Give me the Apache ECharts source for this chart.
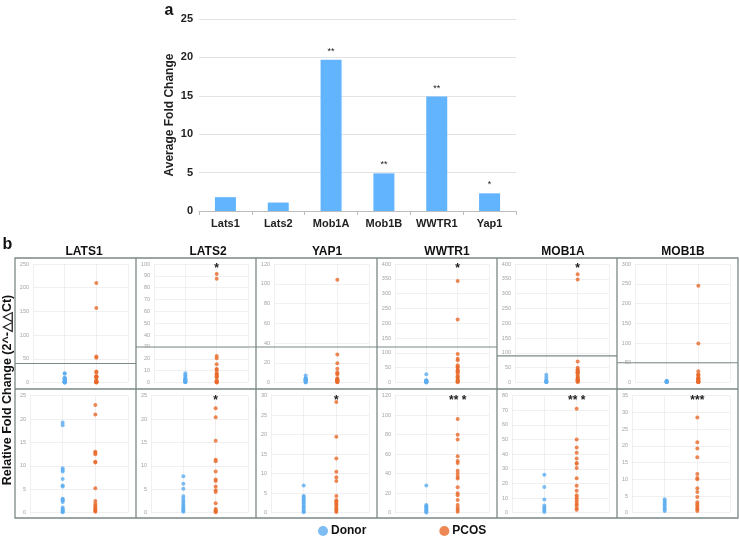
<!DOCTYPE html>
<html>
<head>
<meta charset="utf-8">
<script src="https://cdn.jsdelivr.net/npm/echarts@6/dist/echarts.min.js"></script>
<style>
  html, body { margin: 0; padding: 0; background: #fff; }
  #main { width: 739px; height: 537px; }
</style>
</head>
<body>
<div id="main"></div>
<script>
// panel a: average fold change
const barGenes = ['Lats1', 'Lats2', 'Mob1A', 'Mob1B', 'WWTR1', 'Yap1'];
const barValues = [1.8, 1.1, 19.7, 4.9, 14.9, 2.3];
const barStars = ['', '', '**', '**', '**', '*'];

// panel b: relative fold change per sample
const genes = ['LATS1', 'LATS2', 'YAP1', 'WWTR1', 'MOB1A', 'MOB1B'];
const lats1Donor = [19.3, 18.7, 9.5, 9.1, 8.8, 7.2, 5.8, 5.6, 3.0, 2.8, 2.6, 2.3, 1.1, 0.8, 0.6, 0.4, 0.2, 0.1];
const lats1Pcos = [210, 157, 55, 52, 23.0, 21.0, 13.0, 12.8, 12.5, 10.9, 10.7, 5.2, 2.5, 1.9, 1.5, 1.2, 0.9, 0.6, 0.4, 0.2];
const lats2Donor = [7.8, 6.2, 5.1, 3.5, 3.0, 2.5, 2.1, 1.7, 1.3, 1.0, 0.7, 0.4, 0.2];
const lats2Pcos = [91.5, 87.5, 22.3, 20.4, 15.4, 11.3, 11.0, 8.8, 7.1, 6.8, 5.6, 4.8, 4.4, 2.0, 0.8, 0.5, 0.3, 0.1];
const yap1Donor = [7.0, 4.3, 4.0, 3.6, 3.2, 2.8, 2.4, 2.0, 1.6, 1.2, 0.8, 0.4, 0.1];
const yap1Pcos = [104, 28.4, 19.5, 13.9, 10.5, 9.1, 8.1, 4.3, 3.2, 2.9, 2.5, 2.1, 1.7, 1.3, 0.9, 0.5, 0.2];
const wwtr1Donor = [28, 8.0, 7.0, 6.0, 5.0, 4.0, 3.0, 2.0, 1.0, 0.3];
const wwtr1Pcos = [343, 213, 96, 80, 75, 58, 53, 51, 43, 40, 37, 35, 26, 20, 18, 13, 8, 5, 3, 1];
const mob1aDonor = [26, 17.5, 9, 5, 3.5, 2.5, 1.5, 0.5];
const mob1aPcos = [365, 348, 71, 50, 44.5, 41, 37, 34, 33.5, 30.5, 23.5, 18.5, 15, 12, 10.5, 9, 7.5, 6, 5, 3, 2];
const mob1bDonor = [4.0, 3.5, 3.0, 2.5, 2.0, 1.5, 1.0, 0.5];
const mob1bPcos = [245, 99, 28.5, 21.1, 19.2, 16.6, 11.6, 10.4, 10.0, 7.3, 6.2, 4.7, 3.1, 2.5, 2.0, 1.5, 1.0, 0.5];

const donorSets = [lats1Donor, lats2Donor, yap1Donor, wwtr1Donor, mob1aDonor, mob1bDonor];
const pcosSets = [lats1Pcos, lats2Pcos, yap1Pcos, wwtr1Pcos, mob1aPcos, mob1bPcos];

// y axes: full range (top row) and zoomed range (bottom row)
const upperMax = [250, 100, 120, 400, 400, 300];
const upperStep = [50, 10, 20, 50, 50, 50];
const breakAt = [40, 30, 36, 120, 90, 50];
const lowerMax = [25, 25, 30, 120, 80, 35];
const lowerStep = [5, 5, 5, 20, 10, 5];
const upperStars = ['', '*', '', '*', '*', ''];
const lowerStars = ['', '*', '*', '** *', '** *', '***'];

const colX = [15, 136, 256, 377, 497, 617, 738];
const headerX = [84, 208, 327, 447, 563, 683];
const W = 739, H = 537;
const FONT = 'Liberation Sans, Arial, sans-serif';
const DONOR = '#5cadf0';
const PCOS = '#e86a2b';
const FRAME = '#7b8887';

const chart = echarts.init(document.getElementById('main'), null, { renderer: 'canvas' });

const grids = [{ left: 199, right: W - 516, top: 19, bottom: H - 211 }];
const xAxes = [{
  type: 'category', gridIndex: 0, data: barGenes,
  axisLine: { lineStyle: { color: '#bdbdbd' } },
  axisTick: { show: true, length: 4, lineStyle: { color: '#bdbdbd' } },
  axisLabel: { interval: 0, color: '#222', fontSize: 11, fontWeight: 'bold', fontFamily: FONT, margin: 7 }
}];
const yAxes = [{
  type: 'value', gridIndex: 0, min: 0, max: 25, interval: 5,
  name: 'Average Fold Change', nameLocation: 'middle', nameGap: 23,
  nameTextStyle: { color: '#222', fontSize: 12, fontWeight: 'bold', fontFamily: FONT },
  axisLine: { show: false }, axisTick: { show: false },
  axisLabel: { color: '#222', fontSize: 11, fontWeight: 'bold', fontFamily: FONT, margin: 6 },
  splitLine: { lineStyle: { color: '#e3e3e3' } }
}];
const series = [{
  type: 'bar', xAxisIndex: 0, yAxisIndex: 0, data: barValues, barWidth: 21,
  itemStyle: { color: '#62b4ff' },
  label: {
    show: true, position: 'top', distance: 4, color: '#222', fontSize: 9, fontFamily: FONT,
    formatter: p => barStars[p.dataIndex]
  }
}];

function addPanel(i, row) {
  const max = row === 0 ? upperMax[i] : lowerMax[i];
  const step = row === 0 ? upperStep[i] : lowerStep[i];
  const stars = row === 0 ? upperStars[i] : lowerStars[i];
  const labelLen = String(max).length;
  const g = grids.length;
  grids.push(row === 0
    ? { left: colX[i] + 9 + 3 * labelLen, right: W - colX[i + 1] + 8, top: 264, bottom: H - 382.5 }
    : { left: colX[i] + 9 + 3 * labelLen, right: W - colX[i + 1] + 8, top: 395.7, bottom: H - 512.7 });
  xAxes.push({
    type: 'value', gridIndex: g, min: 0, max: 3, interval: 1,
    axisLine: { show: false }, axisTick: { show: false }, axisLabel: { show: false },
    splitLine: { lineStyle: { color: '#ececec', width: 0.8 } }
  });
  yAxes.push({
    type: 'value', gridIndex: g, min: 0, max: max, interval: step,
    axisLine: { show: false }, axisTick: { show: false },
    axisLabel: { color: '#a3a3a3', fontSize: 5.5, fontFamily: FONT, margin: 4 },
    splitLine: { lineStyle: { color: '#ececec', width: 0.8 } }
  });
  series.push({
    name: 'Donor', type: 'scatter', xAxisIndex: g, yAxisIndex: g, symbolSize: 4,
    itemStyle: { color: DONOR }, clip: true,
    data: donorSets[i].map(v => [1, v])
  });
  const pcos = {
    name: 'PCOS', type: 'scatter', xAxisIndex: g, yAxisIndex: g, symbolSize: 4,
    itemStyle: { color: PCOS }, clip: true,
    data: pcosSets[i].map(v => [2, v])
  };
  if (stars) {
    pcos.markPoint = {
      symbol: 'circle', symbolSize: 1, itemStyle: { color: 'rgba(0,0,0,0)' },
      label: {
        show: true, position: 'inside', offset: [0, 5], color: '#222',
        fontSize: 12, fontWeight: 'bold', fontFamily: FONT, formatter: stars
      },
      data: [{ coord: [2, max] }]
    };
  }
  series.push(pcos);
}
for (let i = 0; i < genes.length; i++) {
  addPanel(i, 0);
  addPanel(i, 1);
}

let option = {
  animation: false,
  textStyle: { fontFamily: FONT },
  grid: grids,
  xAxis: xAxes,
  yAxis: yAxes,
  series: series,
  legend: {
    data: ['Donor', 'PCOS'], left: 318, top: 525, padding: 0, icon: 'circle',
    itemWidth: 10, itemHeight: 10, itemGap: 73,
    textStyle: { color: '#111', fontSize: 12, fontWeight: 'bold', fontFamily: FONT, padding: [0, 0, 0, -2] }
  }
};
chart.setOption(option);

// frames, headers and the axis-break line of each top panel
const graphics = [
  { type: 'text', x: 169, y: 11, style: { text: 'a', font: 'bold 16px ' + FONT, fill: '#111', align: 'center', verticalAlign: 'middle' } },
  { type: 'text', x: 7.5, y: 245, style: { text: 'b', font: 'bold 16px ' + FONT, fill: '#111', align: 'center', verticalAlign: 'middle' } },
  {
    type: 'text', x: 8, y: 390, rotation: Math.PI / 2,
    style: { text: 'Relative Fold Change (2^-△△Ct)', font: 'bold 12.5px ' + FONT, fill: '#111', align: 'center', verticalAlign: 'middle' }
  },
  { type: 'rect', shape: { x: colX[0], y: 258, width: colX[6] - colX[0], height: 260 }, style: { fill: null, stroke: FRAME, lineWidth: 1.3 } },
  { type: 'line', shape: { x1: colX[0], y1: 389, x2: colX[6], y2: 389 }, style: { stroke: FRAME, lineWidth: 1.3 } }
];
for (let i = 0; i < genes.length; i++) {
  graphics.push({
    type: 'text', x: headerX[i], y: 252,
    style: { text: genes[i], font: 'bold 12px ' + FONT, fill: '#111', align: 'center', verticalAlign: 'middle' }
  });
  if (i > 0) {
    graphics.push({ type: 'line', shape: { x1: colX[i], y1: 258, x2: colX[i], y2: 518 }, style: { stroke: FRAME, lineWidth: 1.3 } });
  }
  const yb = chart.convertToPixel({ gridIndex: 1 + 2 * i }, [0, breakAt[i]])[1];
  graphics.push({ type: 'line', shape: { x1: colX[i], y1: yb, x2: colX[i + 1], y2: yb }, style: { stroke: FRAME, lineWidth: 1.1 } });
}
chart.setOption({ graphic: graphics });
</script>
</body>
</html>
